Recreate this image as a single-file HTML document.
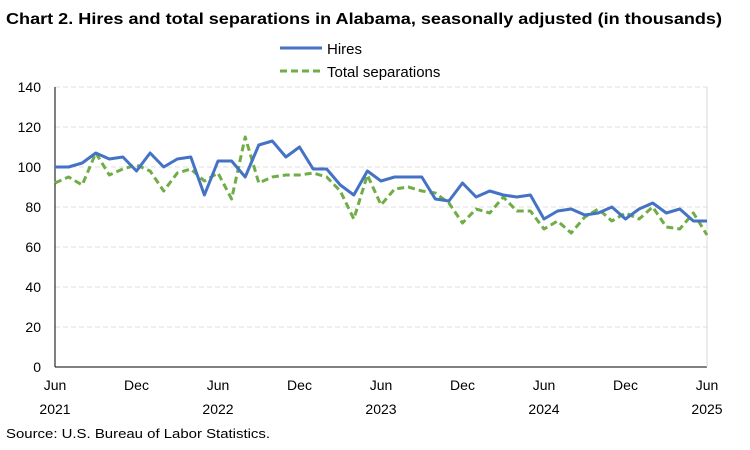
<!DOCTYPE html>
<html><head><meta charset="utf-8"><style>
body{margin:0;background:#fff;font-family:"Liberation Sans",Arial,sans-serif;}
svg text{font-family:"Liberation Sans",Arial,sans-serif;fill:#000;}
</style></head><body>
<svg id="c" width="750" height="445">
<text x="6" y="24" font-size="16" font-weight="bold" textLength="716" lengthAdjust="spacingAndGlyphs">Chart 2. Hires and total separations in Alabama, seasonally adjusted (in thousands)</text>
<g>
<line x1="280" y1="48" x2="322" y2="48" stroke="#4472c4" stroke-width="3"/>
<text x="327" y="54" font-size="15">Hires</text>
<line x1="280" y1="71" x2="322" y2="71" stroke="#70ad47" stroke-width="3" stroke-dasharray="7,4"/>
<text x="327" y="77" font-size="15">Total separations</text>
</g>
<g id="grid"></g><g id="axes"></g><g id="series"></g>
<text x="6" y="438" font-size="13" textLength="264" lengthAdjust="spacingAndGlyphs">Source: U.S. Bureau of Labor Statistics.</text>
</svg>
<script>
const hires=[100,100,102,107,104,105,98,107,100,104,105,86,103,103,95,111,113,105,110,99,99,91,86,98,93,95,95,95,84,83,92,85,88,86,85,86,74,78,79,76,77,80,74,79,82,77,79,73,73];
const separations=[92,95,91,107,96,99,101,98,88,97,99,93,97,84,115,92,95,96,96,97,95,88,74,96,81,89,90,88,87,82,72,79,77,85,78,78,69,73,67,75,79,73,77,74,80,70,69,77,66];
const yTicks=[0,20,40,60,80,100,120,140];
const xLabels=[[0,"Jun","2021"],[6,"Dec",""],[12,"Jun","2022"],[18,"Dec",""],[24,"Jun","2023"],[30,"Dec",""],[36,"Jun","2024"],[42,"Dec",""],[48,"Jun","2025"]];
const L=55,R=707,T=87,B=367,NS="http://www.w3.org/2000/svg";
const x=i=>L+(R-L)*i/48, y=v=>B-(B-T)*v/140;
function mk(p,t,a){const e=document.createElementNS(NS,t);for(const k in a)e.setAttribute(k,a[k]);p.appendChild(e);return e;}
const g=document.getElementById('grid'),ax=document.getElementById('axes'),s=document.getElementById('series');
yTicks.forEach(v=>{
 if(v>0){const l=mk(g,'line',{x1:L,x2:R,y1:y(v),y2:y(v),stroke:'#dcdcdc','stroke-dasharray':'5,3'});
 
 }
 const t=mk(ax,'text',{x:L-14,y:y(v)+5,'font-size':14,'text-anchor':'end'});t.textContent=v;
 
 
});
const ya=mk(ax,'line',{x1:L,x2:L,y1:T,y2:B,stroke:'#000'});


const xa=mk(ax,'line',{x1:L,x2:R,y1:B,y2:B,stroke:'#000'});


const rb=mk(ax,'line',{x1:R,x2:R,y1:T,y2:B,stroke:'#d9d9d9'});


xLabels.forEach(([i,m,yr])=>{
 const t=mk(ax,'text',{x:x(i),y:390,'font-size':14,'text-anchor':'middle'});t.textContent=m;
 
 
 if(yr){const t2=mk(ax,'text',{x:x(i),y:414,'font-size':14,'text-anchor':'middle'});t2.textContent=yr;
 
 }
});
function pts(a){return a.map((v,i)=>x(i).toFixed(1)+','+y(v).toFixed(1)).join(' ');}
const ps=mk(s,'polyline',{points:pts(separations),fill:'none',stroke:'#70ad47','stroke-width':3,'stroke-dasharray':'7,4','stroke-linejoin':'round'});


const ph=mk(s,'polyline',{points:pts(hires),fill:'none',stroke:'#4472c4','stroke-width':3,'stroke-linejoin':'round'});


</script>
</body></html>
